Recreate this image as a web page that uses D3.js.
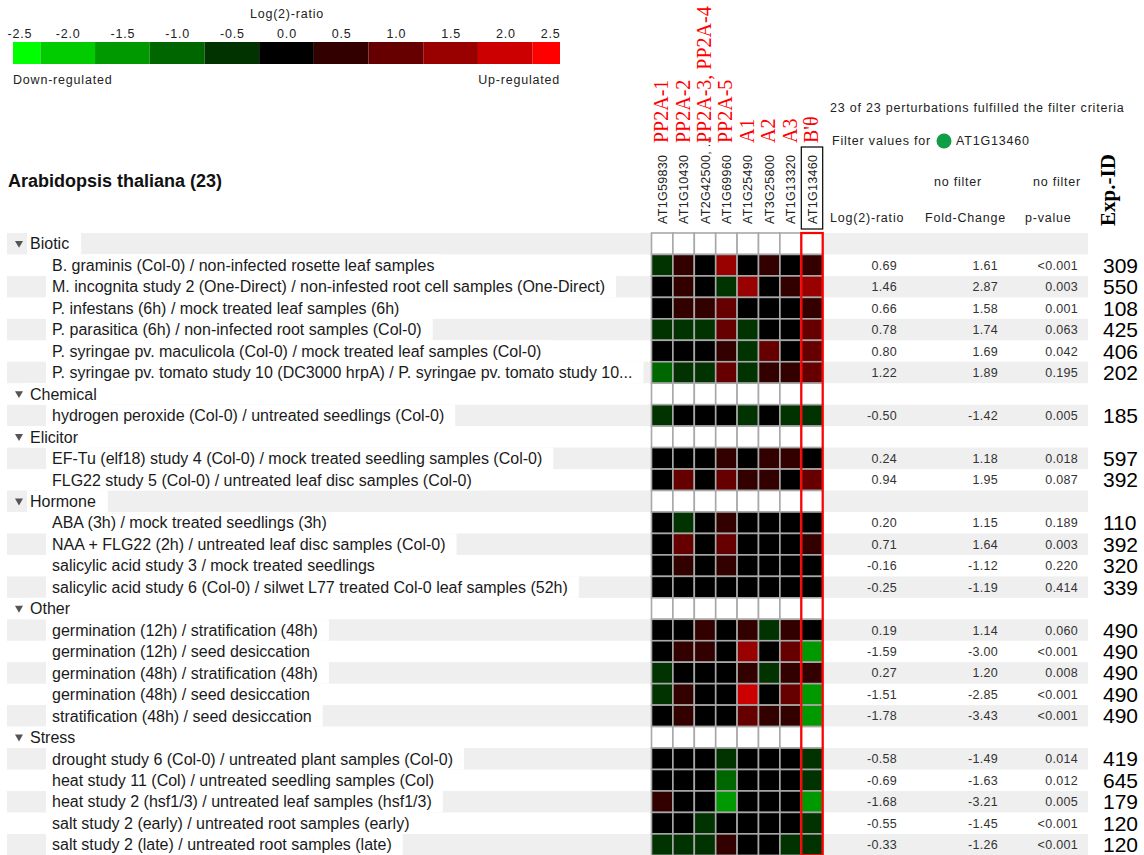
<!DOCTYPE html>
<html>
<head>
<meta charset="utf-8">
<script src="https://cdn.jsdelivr.net/npm/d3@7"></script>
<style>
  html, body { margin: 0; padding: 0; background: #fff; }
  svg { display: block; font-family: "Liberation Sans", Arial, sans-serif; }
  .lbl { font-size: 16px; fill: #1a1a1a; }
  .small { font-size: 12.5px; fill: #222; letter-spacing: 0.8px; }
  .val { font-size: 12.5px; fill: #333; letter-spacing: 0.3px; }
  .gene { font-size: 12.5px; fill: #222; letter-spacing: 0.3px; }
  .red { font-family: "Liberation Serif", "Times New Roman", serif; font-size: 20px; fill: #ff0000; }
  .exp { font-size: 21px; fill: #000; }
</style>
</head>
<body>
<svg id="chart" width="1144" height="855"></svg>
<script>
// Genevestigator-style perturbation heatmap for PP2A subunits.

var legendTicks = [-2.5, -2.0, -1.5, -1.0, -0.5, 0.0, 0.5, 1.0, 1.5, 2.0, 2.5];
var legendColors = ['#00ff00', '#00cc00', '#009900', '#006600', '#003300', '#000000',
                    '#330000', '#660000', '#990000', '#cc0000', '#ff0000'];

var geneIds = ['AT1G59830', 'AT1G10430', 'AT2G42500, ...', 'AT1G69960',
               'AT1G25490', 'AT3G25800', 'AT1G13320', 'AT1G13460'];
var geneNames = ['PP2A-1', 'PP2A-2', 'PP2A-3, PP2A-4', 'PP2A-5', 'A1', 'A2', 'A3', "B'θ"];

var categories = ['Biotic', 'Chemical', 'Elicitor', 'Hormone', 'Other', 'Stress'];
var categorySizes = [6, 1, 2, 4, 5, 5];

var perturbations = [
    'B. graminis (Col-0) / non-infected rosette leaf samples',
    'M. incognita study 2 (One-Direct) / non-infested root cell samples (One-Direct)',
    'P. infestans (6h) / mock treated leaf samples (6h)',
    'P. parasitica (6h) / non-infected root samples (Col-0)',
    'P. syringae pv. maculicola (Col-0) / mock treated leaf samples (Col-0)',
    'P. syringae pv. tomato study 10 (DC3000 hrpA) / P. syringae pv. tomato study 10...',
    'hydrogen peroxide (Col-0) / untreated seedlings (Col-0)',
    'EF-Tu (elf18) study 4 (Col-0) / mock treated seedling samples (Col-0)',
    'FLG22 study 5 (Col-0) / untreated leaf disc samples  (Col-0)',
    'ABA (3h) / mock treated seedlings (3h)',
    'NAA + FLG22 (2h) / untreated leaf disc samples  (Col-0)',
    'salicylic acid study 3 / mock treated seedlings',
    'salicylic acid study 6 (Col-0) / silwet L77 treated Col-0 leaf samples (52h)',
    'germination (12h) / stratification (48h)',
    'germination (12h) / seed desiccation',
    'germination (48h) / stratification (48h)',
    'germination (48h) / seed desiccation',
    'stratification (48h) / seed desiccation',
    'drought study 6 (Col-0) / untreated plant samples (Col-0)',
    'heat study 11 (Col) / untreated seedling samples (Col)',
    'heat study 2 (hsf1/3) / untreated leaf samples (hsf1/3)',
    'salt study 2 (early) / untreated root samples (early)',
    'salt study 2 (late) / untreated root samples (late)'
];

// log2 ratios per gene
var heatValues = [
    [-0.5,  0.5,  0.0,  1.5,  0.0,  0.5,  0.0,  0.69],
    [ 0.0,  0.5,  0.0, -0.5,  1.5,  0.0,  0.5,  1.46],
    [ 0.0,  0.5,  0.5,  1.0,  0.0,  0.0,  0.0,  0.66],
    [-0.5, -0.5, -0.5,  1.0, -0.5,  0.0,  0.0,  0.78],
    [ 0.0,  0.0,  0.0,  0.5, -0.5,  1.0,  0.0,  0.80],
    [-1.0, -0.5, -0.5,  1.0, -0.5,  0.5,  0.5,  1.22],
    [-0.5,  0.0,  0.0,  0.0, -0.5,  0.0, -0.5, -0.50],
    [ 0.0,  0.0,  0.0,  0.5,  0.0,  0.5,  0.5,  0.24],
    [ 0.0,  1.0,  0.0,  1.0,  0.5,  0.5,  0.0,  0.94],
    [ 0.0, -0.5,  0.0,  0.5,  0.0,  0.0,  0.0,  0.20],
    [ 0.0,  1.0,  0.0,  1.0,  0.0,  0.0,  0.0,  0.71],
    [ 0.0,  0.5,  0.0,  0.5,  0.0,  0.0,  0.0, -0.16],
    [ 0.0,  0.0,  0.0,  0.0,  0.0,  0.0,  0.0, -0.25],
    [ 0.0,  0.0,  0.5,  0.0,  0.5, -0.5,  0.5,  0.19],
    [ 0.0,  0.5,  0.5,  0.0,  1.5,  0.0,  1.0, -1.59],
    [-0.5,  0.0,  0.0,  0.0,  0.5, -0.5,  0.5,  0.27],
    [-0.5,  0.5,  0.0,  0.0,  2.0,  0.0,  1.0, -1.51],
    [ 0.0,  0.5,  0.0,  0.0,  1.0,  0.5,  0.5, -1.70],
    [ 0.0,  0.0,  0.0, -0.5,  0.0,  0.0,  0.0, -0.58],
    [ 0.0,  0.0,  0.0, -1.0,  0.0,  0.0,  0.0, -0.69],
    [ 0.5,  0.0,  0.0, -1.5,  0.0,  0.0,  0.0, -1.68],
    [ 0.0,  0.0, -0.5,  0.0,  0.0,  0.0,  0.0, -0.55],
    [-0.5, -0.5, -0.5,  0.5,  0.0,  0.0, -0.5, -0.33]
];

var log2Ratio = [0.69, 1.46, 0.66, 0.78, 0.80, 1.22, -0.50, 0.24, 0.94, 0.20, 0.71, -0.16,
                 -0.25, 0.19, -1.59, 0.27, -1.51, -1.78, -0.58, -0.69, -1.68, -0.55, -0.33];
var foldChange = [1.61, 2.87, 1.58, 1.74, 1.69, 1.89, -1.42, 1.18, 1.95, 1.15, 1.64, -1.12,
                  -1.19, 1.14, -3.00, 1.20, -2.85, -3.43, -1.49, -1.63, -3.21, -1.45, -1.26];
var pValue = ['<0.001', '0.003', '0.001', '0.063', '0.042', '0.195', '0.005', '0.018', '0.087',
              '0.189', '0.003', '0.220', '0.414', '0.060', '<0.001', '0.008', '<0.001', '<0.001',
              '0.014', '0.012', '0.005', '<0.001', '<0.001'];
var expIds = [309, 550, 108, 425, 406, 202, 185, 597, 392, 110, 392, 320, 339,
              490, 490, 490, 490, 490, 419, 645, 179, 120, 120];

(function () {
    var svg = d3.select('#chart');

    // flatten categories + perturbations into display rows
    var rows = [];
    var k = 0;
    categories.forEach(function (c, ci) {
        rows.push({ header: true, label: c });
        for (var j = 0; j < categorySizes[ci]; j++) {
            rows.push({ header: false, label: perturbations[k], i: k });
            k++;
        }
    });

    var rowH = 21.46;
    var y = d3.scaleBand().domain(d3.range(rows.length)).range([233, 233 + rows.length * rowH]);
    var x = d3.scaleBand().domain(geneIds).range([651.5, 651.5 + 8 * 21.4]);
    var color = d3.scaleThreshold()
        .domain([-2.25, -1.75, -1.25, -0.75, -0.25, 0.25, 0.75, 1.25, 1.75, 2.25])
        .range(legendColors);

    // ---- legend ----
    var lx = d3.scaleLinear().domain([-2.5, 2.5]).range([13, 560]);
    var leg = svg.append('g');
    leg.selectAll('rect').data(legendTicks).enter().append('rect')
        .attr('x', function (d) { return lx(Math.max(-2.5, d - 0.25)); })
        .attr('width', function (d) { return lx(Math.min(2.5, d + 0.25)) - lx(Math.max(-2.5, d - 0.25)); })
        .attr('y', 42).attr('height', 22)
        .attr('fill', function (d) { return color(d); });
    var la = leg.append('g').attr('transform', 'translate(0,38)')
        .call(d3.axisTop(lx).tickValues(legendTicks).tickSize(0).tickPadding(0)
            .tickFormat(function (d) { return d.toFixed(1); }));
    la.select('.domain').remove();
    la.selectAll('text').attr('class', 'small').attr('font-size', null).attr('font-family', null)
        .attr('fill', null)
        .attr('text-anchor', function (d) { return d === -2.5 ? 'start' : d === 2.5 ? 'end' : 'middle'; })
        .attr('dx', function (d) { return d === -2.5 ? -6 : 0; });
    leg.append('text').attr('class', 'small').attr('x', 287).attr('y', 18)
        .attr('text-anchor', 'middle').text('Log(2)-ratio');
    leg.append('text').attr('class', 'small').attr('x', 13).attr('y', 84).text('Down-regulated');
    leg.append('text').attr('class', 'small').attr('x', 560).attr('y', 84)
        .attr('text-anchor', 'end').text('Up-regulated');

    // ---- row bands ----
    svg.append('g').selectAll('rect').data(rows).enter()
        .filter(function (d, i) { return i % 2 === 0; })
        .append('rect')
        .attr('x', 7).attr('width', 1088 - 7)
        .attr('y', function (d) { return y(rows.indexOf(d)); })
        .attr('height', y.bandwidth())
        .attr('fill', '#efefef');

    // ---- row labels on white boxes ----
    var lg = svg.append('g');
    rows.forEach(function (r, i) {
        var cy = y(i) + y.bandwidth() / 2;
        var tx = r.header ? 30 : 52;
        var t = lg.append('text').attr('class', 'lbl')
            .attr('x', tx).attr('y', cy).attr('dy', '0.36em').text(r.label);
        var w = t.node().getComputedTextLength();
        lg.insert('rect', function () { return t.node(); })
            .attr('x', r.header ? tx - 3 : tx - 6).attr('y', y(i))
            .attr('width', w + (r.header ? 15 : 17)).attr('height', y.bandwidth())
            .attr('fill', '#fff');
        if (r.header) {
            lg.append('path')
                .attr('d', d3.symbol().type(d3.symbolTriangle).size(28))
                .attr('transform', 'translate(' + 19 + ',' + (cy - 0.5) + ') rotate(180)')
                .attr('fill', '#555');
        }
    });

    // ---- heatmap ----
    var hg = svg.append('g');
    rows.forEach(function (r, i) {
        geneIds.forEach(function (g, j) {
            hg.append('rect')
                .attr('x', x(g)).attr('y', y(i))
                .attr('width', x.bandwidth()).attr('height', y.bandwidth())
                .attr('fill', r.header ? '#fff' : color(heatValues[r.i][j]))
                .attr('stroke', '#a8a8a8').attr('stroke-width', 1.6);
        });
    });
    var last = geneIds[geneIds.length - 1];
    hg.append('rect')
        .attr('x', x(last)).attr('y', y(0))
        .attr('width', x.bandwidth()).attr('height', rows.length * rowH)
        .attr('fill', 'none').attr('stroke', '#ff0000').attr('stroke-width', 2.2);

    // ---- column labels ----
    var cg = svg.append('g');
    geneIds.forEach(function (g, j) {
        var cx = x(g) + x.bandwidth() / 2;
        cg.append('text').attr('class', 'gene')
            .attr('transform', 'translate(' + (cx + 4.5) + ',224) rotate(-90)')
            .text(g);
        cg.append('text').attr('class', 'red')
            .attr('transform', 'translate(' + (cx + 6) + ',143) rotate(-90)')
            .text(geneNames[j]);
    });
    cg.append('rect').attr('x', x(last)).attr('y', 147)
        .attr('width', x.bandwidth()).attr('height', 82)
        .attr('fill', 'none').attr('stroke', '#000').attr('stroke-width', 1.2);

    // ---- title / filter header ----
    svg.append('text').attr('x', 8).attr('y', 187)
        .attr('font-size', 18).attr('font-weight', 'bold').attr('fill', '#111')
        .text('Arabidopsis thaliana (23)');
    svg.append('text').attr('class', 'small').attr('x', 830).attr('y', 112)
        .text('23 of 23 perturbations fulfilled the filter criteria');
    svg.append('text').attr('class', 'small').attr('x', 832).attr('y', 145).text('Filter values for');
    svg.append('circle').attr('cx', 944).attr('cy', 141).attr('r', 7.5).attr('fill', '#0f9d45');
    svg.append('text').attr('class', 'small').attr('x', 956).attr('y', 145).text('AT1G13460');
    svg.append('text').attr('class', 'small').attr('x', 958).attr('y', 186)
        .attr('text-anchor', 'middle').text('no filter');
    svg.append('text').attr('class', 'small').attr('x', 1057).attr('y', 186)
        .attr('text-anchor', 'middle').text('no filter');
    svg.append('text').attr('class', 'small').attr('x', 830).attr('y', 222).text('Log(2)-ratio');
    svg.append('text').attr('class', 'small').attr('x', 925).attr('y', 222).text('Fold-Change');
    svg.append('text').attr('class', 'small').attr('x', 1025).attr('y', 222).text('p-value');
    svg.append('text')
        .attr('transform', 'translate(1115,190) rotate(-90)')
        .attr('text-anchor', 'middle')
        .attr('font-family', '"Liberation Serif", "Times New Roman", serif')
        .attr('font-weight', 'bold').attr('font-size', 21).attr('fill', '#000')
        .text('Exp.-ID');

    // ---- value columns ----
    var vg = svg.append('g');
    rows.forEach(function (r, i) {
        if (r.header) return;
        var cy = y(i) + y.bandwidth() / 2;
        vg.append('text').attr('class', 'val').attr('x', 897).attr('y', cy).attr('dy', '0.36em')
            .attr('text-anchor', 'end').text(log2Ratio[r.i].toFixed(2));
        vg.append('text').attr('class', 'val').attr('x', 998).attr('y', cy).attr('dy', '0.36em')
            .attr('text-anchor', 'end').text(foldChange[r.i].toFixed(2));
        vg.append('text').attr('class', 'val').attr('x', 1078).attr('y', cy).attr('dy', '0.36em')
            .attr('text-anchor', 'end').text(pValue[r.i]);
        vg.append('text').attr('class', 'exp').attr('x', 1103).attr('y', cy).attr('dy', '0.36em')
            .text(expIds[r.i]);
    });
})();
</script>
</body>
</html>
